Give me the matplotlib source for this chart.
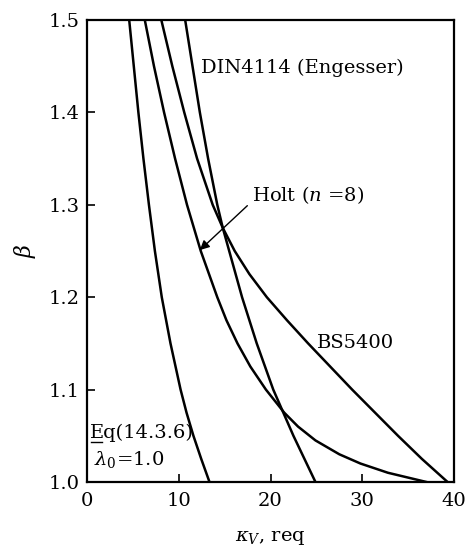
import matplotlib
matplotlib.use("Agg")
import matplotlib.pyplot as plt

plt.rcParams["font.family"] = ["DejaVu Serif"]
plt.rcParams["mathtext.fontset"] = "dejavuserif"

# curves: kappa values at given beta
eq_beta = [1.5, 1.45, 1.4, 1.35, 1.3, 1.25, 1.2, 1.15, 1.1, 1.075, 1.05, 1.025, 1.0]
eq_k = [4.6, 5.1, 5.6, 6.15, 6.75, 7.4, 8.15, 9.1, 10.2, 10.85, 11.6, 12.45, 13.35]

holt_beta = [1.5, 1.45, 1.4, 1.35, 1.3, 1.25, 1.2, 1.175, 1.15, 1.125, 1.1, 1.075,
             1.06, 1.045, 1.03, 1.02, 1.01, 1.0]
holt_k = [6.3, 7.3, 8.4, 9.6, 10.9, 12.4, 14.2, 15.2, 16.4, 17.8, 19.5, 21.5,
          23.0, 24.9, 27.5, 29.8, 32.8, 37.0]

bs_beta = [1.5, 1.45, 1.4, 1.35, 1.3, 1.275, 1.25, 1.225, 1.2, 1.175, 1.15, 1.125,
           1.1, 1.075, 1.05, 1.025, 1.0]
bs_k = [8.1, 9.3, 10.6, 12.0, 13.7, 14.8, 16.1, 17.7, 19.6, 21.8, 24.1, 26.5,
        28.9, 31.4, 33.9, 36.5, 39.3]

din_beta = [1.5, 1.45, 1.4, 1.35, 1.3, 1.275, 1.25, 1.225, 1.2, 1.175, 1.15, 1.125,
            1.1, 1.075, 1.05, 1.025, 1.0]
din_k = [10.7, 11.5, 12.3, 13.2, 14.2, 14.8, 15.5, 16.2, 16.9, 17.7, 18.5, 19.4,
         20.3, 21.4, 22.5, 23.7, 24.9]

x_ticks = [0, 10, 20, 30, 40]
y_ticks = [1.0, 1.1, 1.2, 1.3, 1.4, 1.5]

fig = plt.figure(figsize=(4.71, 5.46), dpi=100)
ax = fig.add_axes([87 / 471, 64 / 546, 367 / 471, 462 / 546])

lw = 1.8
for k, b in [(eq_k, eq_beta), (holt_k, holt_beta), (bs_k, bs_beta), (din_k, din_beta)]:
    ax.plot(k, b, color="black", lw=lw, solid_joinstyle="round")

ax.set_xlim(0, 40)
ax.set_ylim(1.0, 1.5)
ax.set_xticks(x_ticks)
ax.set_yticks(y_ticks)
ax.set_yticklabels(["%.1f" % v for v in y_ticks])
ax.tick_params(direction="in", length=6, width=1.2, labelsize=14, color="black")
ax.tick_params(axis="x", pad=7)
ax.tick_params(axis="y", pad=5)
for s in ax.spines.values():
    s.set_linewidth(1.6)

ax.set_xlabel(r"$\kappa_{V}$, req", fontsize=14, labelpad=14)
ax.set_ylabel(r"$\beta$", fontsize=16, labelpad=8)

ax.text(12.4, 1.448, "DIN4114 (Engesser)", fontsize=14, va="center", ha="left")
ax.annotate(r"Holt ($n$ =8)", xy=(12.3, 1.251), xytext=(18.0, 1.311),
            fontsize=14, va="center", ha="left",
            arrowprops=dict(arrowstyle="-|>", color="black", lw=1.0,
                            mutation_scale=14, shrinkA=2, shrinkB=0,
                            relpos=(0.0, 0.2)))
ax.text(25.1, 1.150, "BS5400", fontsize=14, va="center", ha="left")
ax.text(0.35, 1.053, "Eq(14.3.6)", fontsize=14, va="center", ha="left")
ax.plot([0.4, 1.65], [1.043, 1.043], color="black", lw=1.0)
ax.text(0.8, 1.024, r"$\lambda_0$=1.0", fontsize=14, va="center", ha="left")

fig.savefig("out.png", dpi=100)
